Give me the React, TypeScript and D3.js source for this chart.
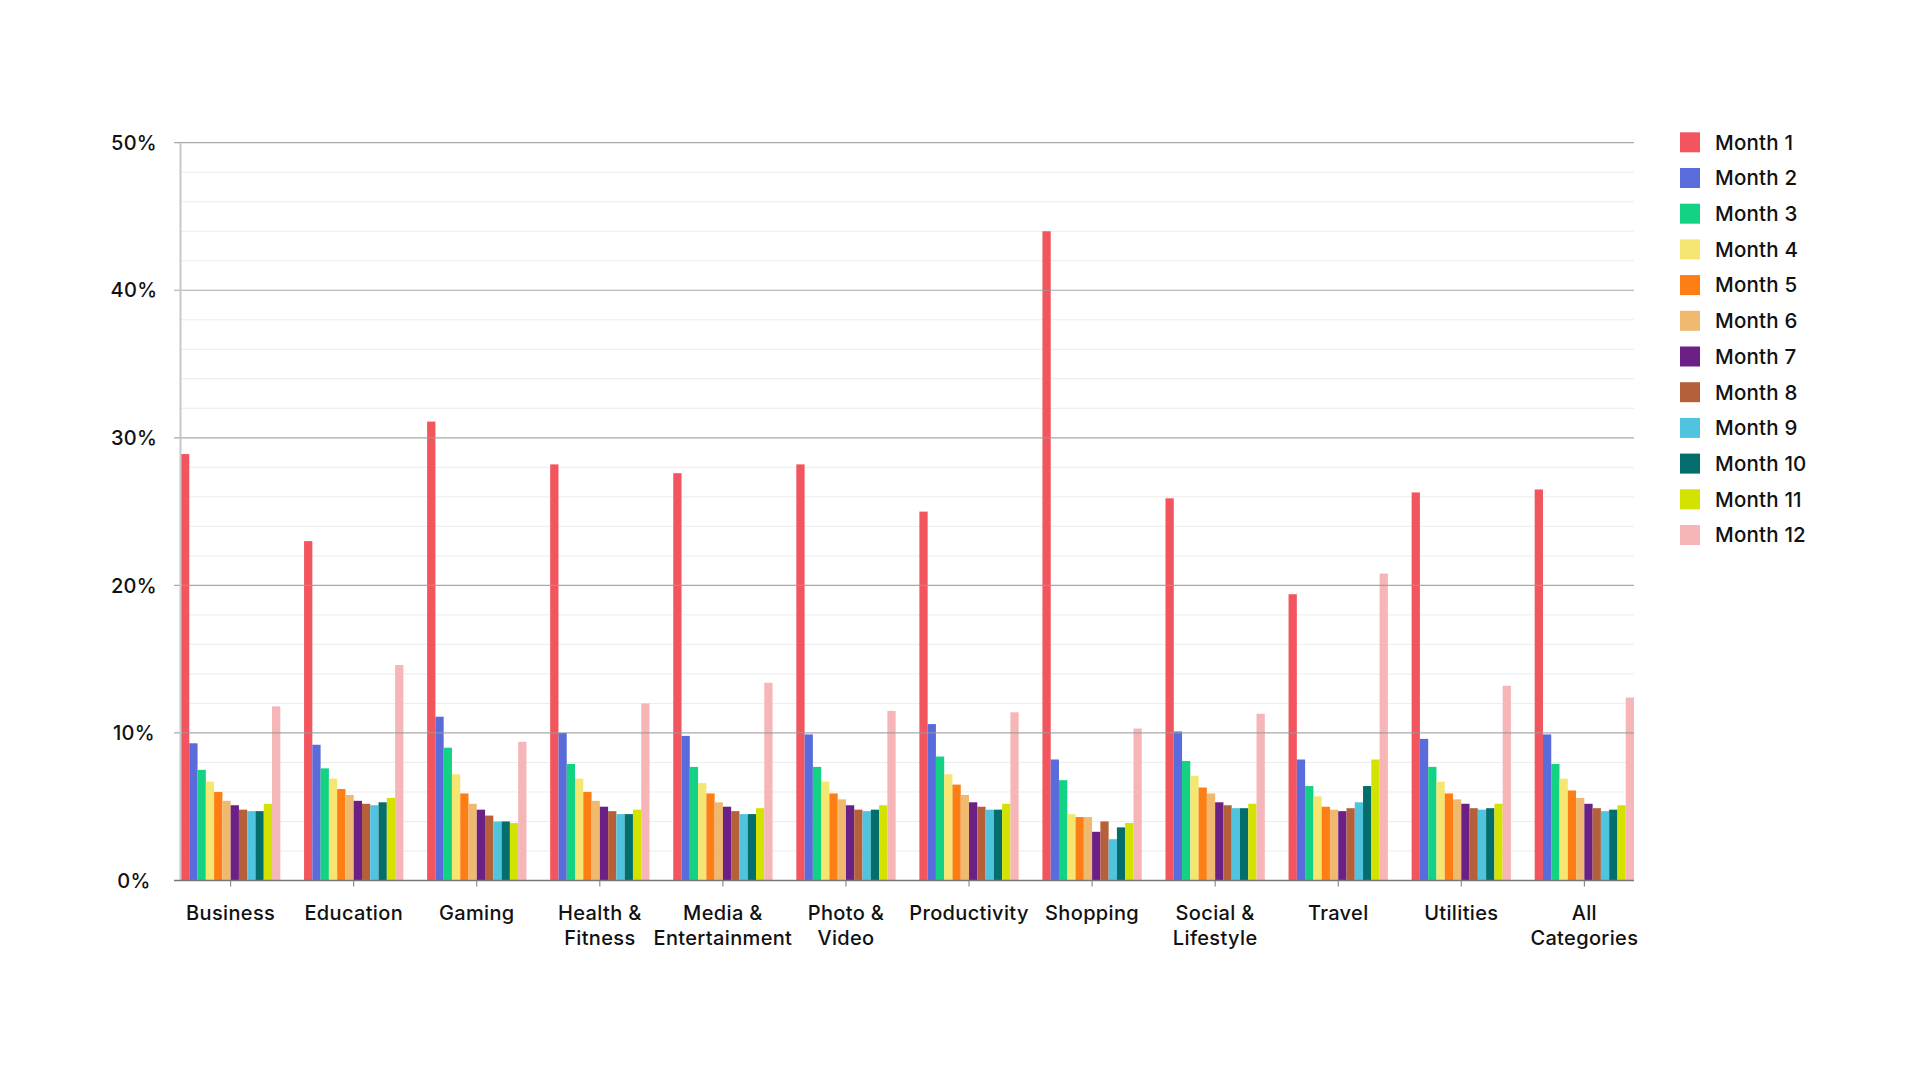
import React, { useEffect } from "react";
import * as d3 from "d3";

const categories = [
  ["Business"],
  ["Education"],
  ["Gaming"],
  ["Health &", "Fitness"],
  ["Media &", "Entertainment"],
  ["Photo &", "Video"],
  ["Productivity"],
  ["Shopping"],
  ["Social &", "Lifestyle"],
  ["Travel"],
  ["Utilities"],
  ["All", "Categories"],
];

const months = [
  "Month 1", "Month 2", "Month 3", "Month 4", "Month 5", "Month 6",
  "Month 7", "Month 8", "Month 9", "Month 10", "Month 11", "Month 12",
];

const colors = [
  "#F2555D", "#5A6BDB", "#14D283", "#F4E670", "#FD7E14", "#EFBA6F",
  "#6B2085", "#B5603A", "#50C3DF", "#036E6B", "#D3E200", "#F6B6B8",
];

// values (%) per category, Month 1 .. Month 12
const business = [28.9, 9.3, 7.5, 6.7, 6.0, 5.4, 5.1, 4.8, 4.7, 4.7, 5.2, 11.8];
const education = [23.0, 9.2, 7.6, 6.9, 6.2, 5.8, 5.4, 5.2, 5.1, 5.3, 5.6, 14.6];
const gaming = [31.1, 11.1, 9.0, 7.2, 5.9, 5.2, 4.8, 4.4, 4.0, 4.0, 3.9, 9.4];
const health = [28.2, 10.0, 7.9, 6.9, 6.0, 5.4, 5.0, 4.7, 4.5, 4.5, 4.8, 12.0];
const media = [27.6, 9.8, 7.7, 6.6, 5.9, 5.3, 5.0, 4.7, 4.5, 4.5, 4.9, 13.4];
const photo = [28.2, 9.9, 7.7, 6.7, 5.9, 5.5, 5.1, 4.8, 4.7, 4.8, 5.1, 11.5];
const productivity = [25.0, 10.6, 8.4, 7.2, 6.5, 5.8, 5.3, 5.0, 4.8, 4.8, 5.2, 11.4];
const shopping = [44.0, 8.2, 6.8, 4.5, 4.3, 4.3, 3.3, 4.0, 2.8, 3.6, 3.9, 10.3];
const social = [25.9, 10.1, 8.1, 7.1, 6.3, 5.9, 5.3, 5.1, 4.9, 4.9, 5.2, 11.3];
const travel = [19.4, 8.2, 6.4, 5.7, 5.0, 4.8, 4.7, 4.9, 5.3, 6.4, 8.2, 20.8];
const utilities = [26.3, 9.6, 7.7, 6.7, 5.9, 5.5, 5.2, 4.9, 4.8, 4.9, 5.2, 13.2];
const allCategories = [26.5, 9.9, 7.9, 6.9, 6.1, 5.6, 5.2, 4.9, 4.7, 4.8, 5.1, 12.4];

const seriesByCategory = [
  business, education, gaming, health, media, photo,
  productivity, shopping, social, travel, utilities, allCategories,
];

const majorTicks = [0, 10, 20, 30, 40, 50];
const minorTicks = d3.range(2, 50, 2).filter((v) => v % 10 !== 0);

const W = 1920;
const H = 1080;
const FONT = "Inter, 'Noto Sans', sans-serif";

export default function App() {
  useEffect(() => {
    document.body.style.margin = "0";
  }, []);

  const x0 = d3
    .scaleBand<number>()
    .domain(d3.range(categories.length))
    .range([181, 1634])
    .paddingInner(0.193)
    .paddingOuter(0);
  const x1 = d3
    .scaleBand<number>()
    .domain(d3.range(months.length))
    .range([0, x0.bandwidth()]);
  const y = d3.scaleLinear().domain([0, 50]).range([880.5, 142.7]);

  const left = 181;
  const right = 1634;

  return (
    <svg width={W} height={H} style={{ display: "block", background: "#fff" }} fontFamily={FONT}>
      {/* minor grid */}
      {minorTicks.map((t) => (
        <line key={"mn" + t} x1={left} x2={right} y1={y(t)} y2={y(t)} stroke="#ececec" strokeWidth={1} />
      ))}
      {/* bars */}
      {seriesByCategory.map((vals, ci) => (
        <g key={"c" + ci} transform={`translate(${x0(ci)},0)`}>
          {vals.map((v, mi) => (
            <rect
              key={mi}
              x={x1(mi)}
              y={y(v)}
              width={x1.bandwidth()}
              height={y(0) - y(v)}
              fill={colors[mi]}
            />
          ))}
        </g>
      ))}
      {/* major grid */}
      {majorTicks.filter((t) => t > 0).map((t) => (
        <line key={"mj" + t} x1={174} x2={right} y1={y(t)} y2={y(t)} stroke="#999" strokeOpacity={0.85} strokeWidth={1.2} />
      ))}
      {/* left axis */}
      <line x1={left - 0.5} x2={left - 0.5} y1={y(50)} y2={y(0)} stroke="#c8c8c8" strokeWidth={2} />
      {/* bottom axis */}
      <line x1={174} x2={right} y1={y(0)} y2={y(0)} stroke="#777" strokeWidth={1.5} />
      {/* category ticks */}
      {categories.map((_, ci) => {
        const cx = (x0(ci) as number) + x0.bandwidth() / 2;
        return <line key={"t" + ci} x1={cx} x2={cx} y1={y(0)} y2={y(0) + 6} stroke="#777" strokeWidth={1} />;
      })}
      {/* y labels */}
      {majorTicks.map((t) => (
        <text key={"yl" + t} x={134} y={y(t)} dy="0.36em" textAnchor="middle" fontSize={20} fontWeight={500} letterSpacing={0.3} fill="#111">
          {t + "%"}
        </text>
      ))}
      {/* category labels */}
      {categories.map((lines, ci) => {
        const cx = (x0(ci) as number) + x0.bandwidth() / 2;
        return (
          <text key={"cl" + ci} x={cx} y={920} textAnchor="middle" fontSize={20} fontWeight={500} letterSpacing={0.35} fill="#111">
            {lines.map((ln, li) => (
              <tspan key={li} x={cx} y={920 + li * 24.5}>
                {ln}
              </tspan>
            ))}
          </text>
        );
      })}
      {/* legend */}
      {months.map((m, i) => {
        const cy = 142.3 + i * 35.7;
        return (
          <g key={"lg" + i}>
            <rect x={1680} y={cy - 10} width={20} height={20} fill={colors[i]} />
            <text x={1715} y={cy} dy="0.36em" fontSize={20.5} fontWeight={500} letterSpacing={0.2} fill="#111">
              {m}
            </text>
          </g>
        );
      })}
    </svg>
  );
}
